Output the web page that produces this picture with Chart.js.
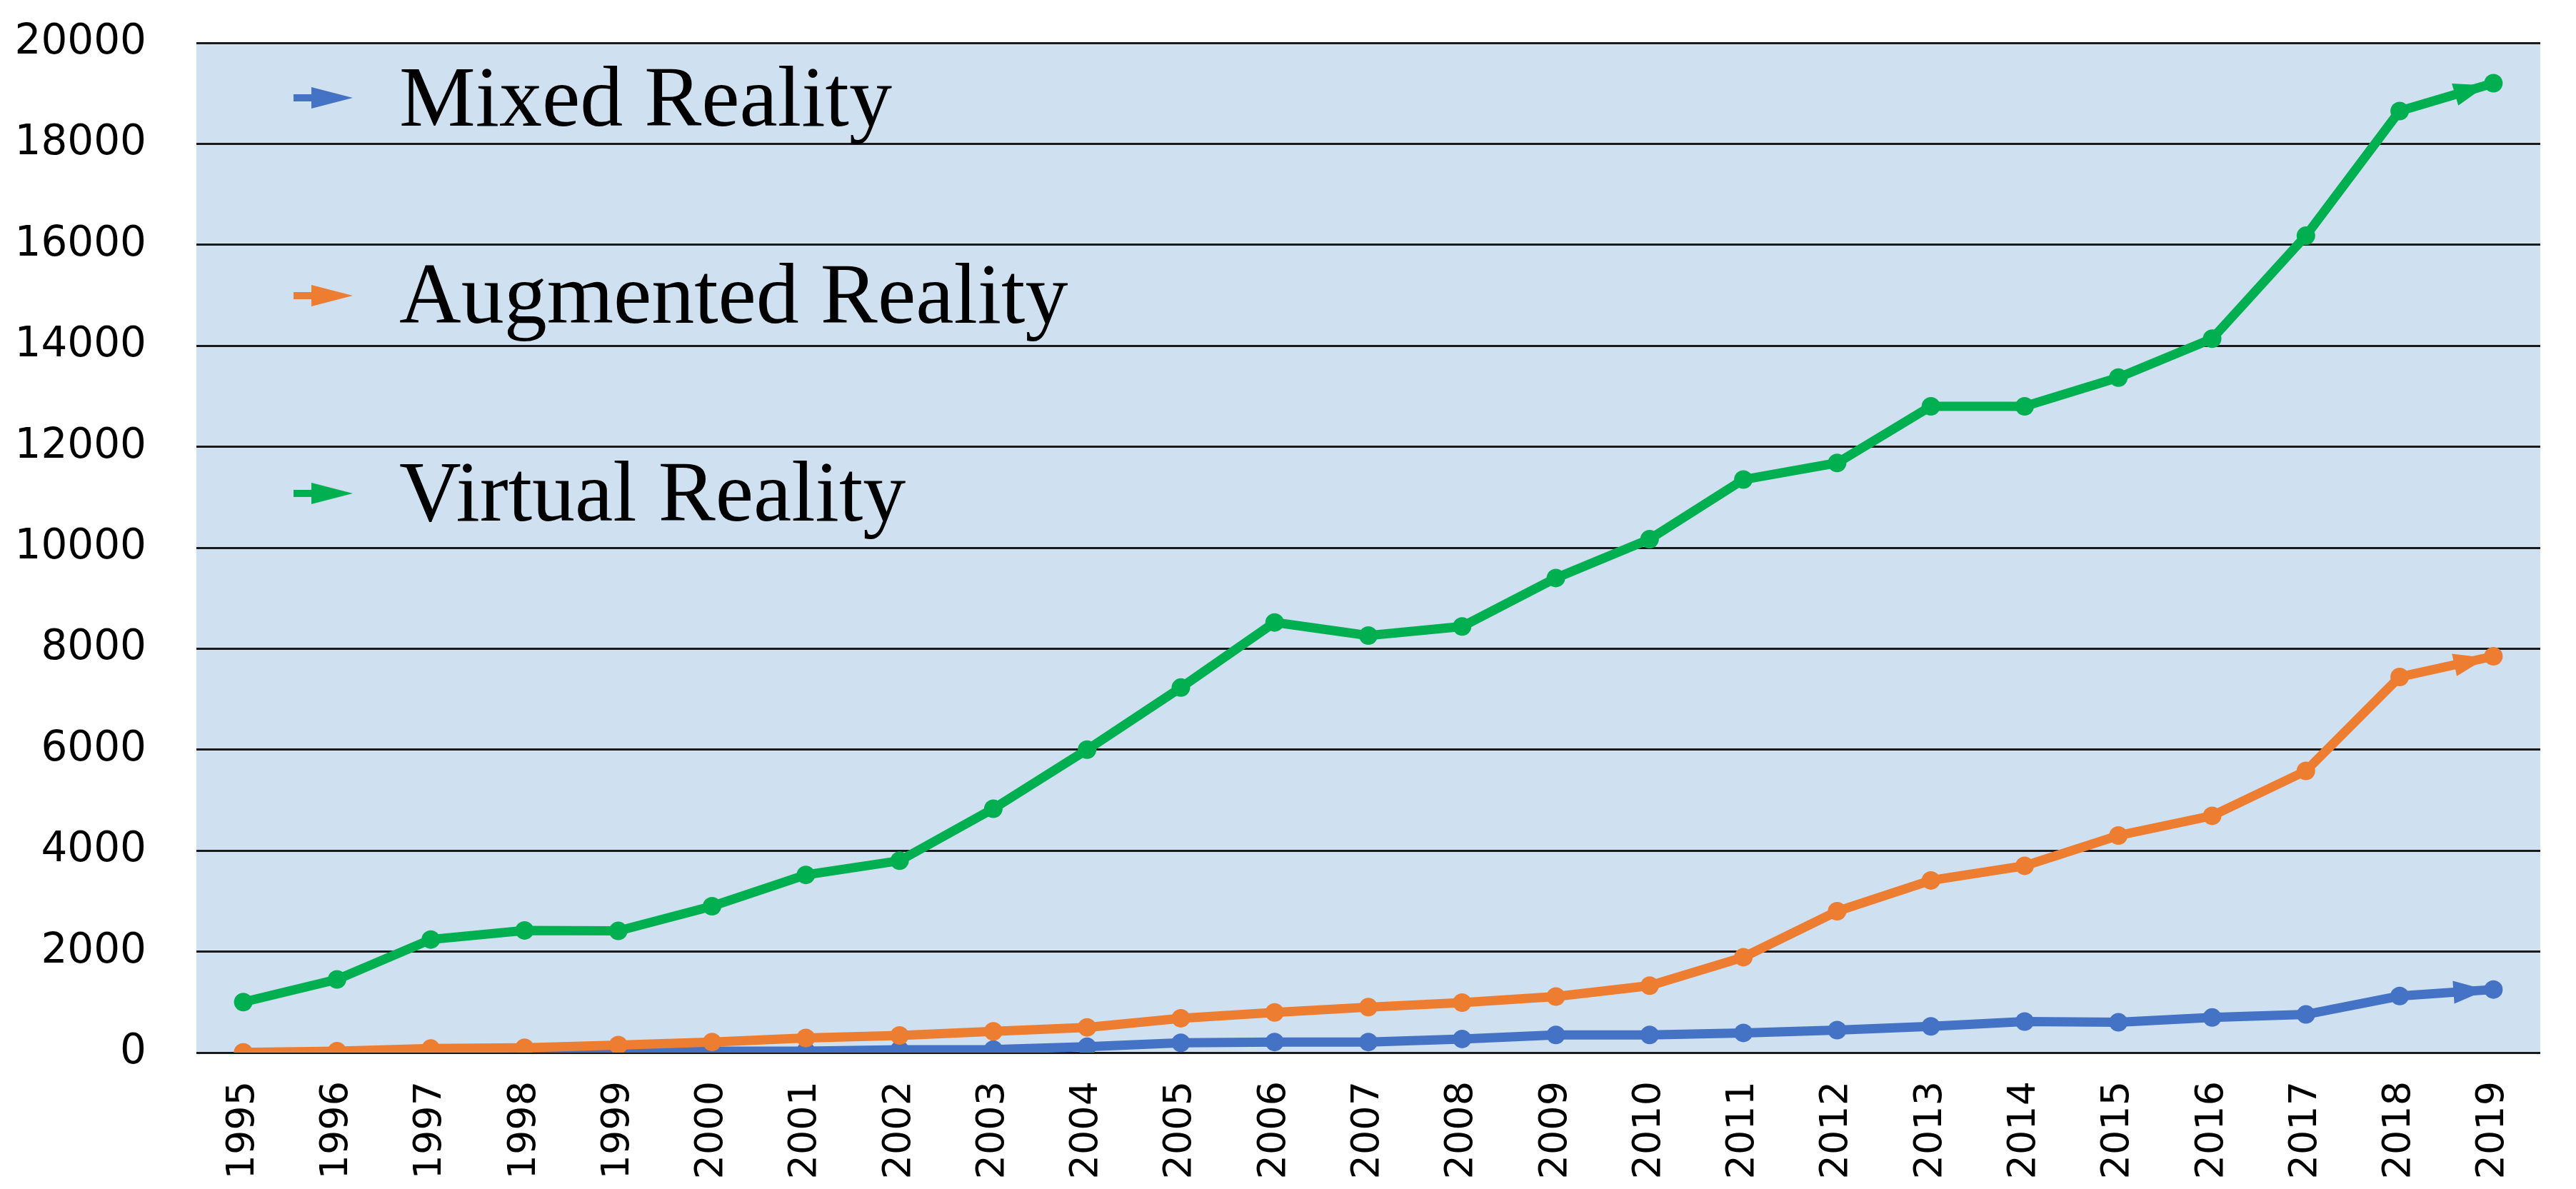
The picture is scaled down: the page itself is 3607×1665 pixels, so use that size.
<!DOCTYPE html>
<html>
<head>
<meta charset="utf-8">
<script src="https://cdn.jsdelivr.net/npm/chart.js@4"></script>
<style>
  html, body { margin: 0; padding: 0; background: #ffffff; }
  #wrap { width: 3607px; height: 1665px; position: relative; }
</style>
</head>
<body>
<div id="wrap"><canvas id="c" width="3607" height="1665"></canvas></div>
<script>
// ---------------- data ----------------
const years = ['1995','1996','1997','1998','1999','2000','2001','2002','2003','2004','2005','2006',
               '2007','2008','2009','2010','2011','2012','2013','2014','2015','2016','2017','2018','2019'];
const mixedReality     = [0, 10, 15, 15, 20, 30, 30, 55, 60, 115, 195, 210, 210, 270, 350, 350, 390, 445, 520, 615, 600, 695, 755, 1120, 1250];
const augmentedReality = [5, 30, 80, 95, 150, 210, 290, 340, 420, 500, 680, 795, 900, 990, 1110, 1325, 1890, 2800, 3410, 3700, 4300, 4690, 5580, 7440, 7850];
const virtualReality   = [1000, 1450, 2240, 2420, 2410, 2900, 3520, 3800, 4830, 6000, 7230, 8520, 8260, 8440, 9400, 10170, 11350, 11680, 12800, 12800, 13370, 14140, 16180, 18650, 19200];
const yTickValues = [0, 2000, 4000, 6000, 8000, 10000, 12000, 14000, 16000, 18000, 20000];
const seriesLabels = ['Mixed Reality', 'Augmented Reality', 'Virtual Reality'];
const seriesColors = ['#4472C4', '#ED7D31', '#00B050'];

// ---------------- helpers ----------------
function makeLegendArrow(color) {
  const cv = document.createElement('canvas');
  cv.width = 130; cv.height = 60;
  const g = cv.getContext('2d');
  g.fillStyle = color;
  g.fillRect(47, 18, 30, 10);
  g.beginPath();
  g.moveTo(72, 8);
  g.lineTo(130, 23);
  g.lineTo(72, 38);
  g.closePath();
  g.fill();
  return cv;
}
const legendArrows = seriesColors.map(makeLegendArrow);

const plotBackground = {
  id: 'plotBackground',
  beforeDraw(chart) {
    const {ctx, chartArea: a} = chart;
    ctx.save();
    ctx.fillStyle = '#CFE0F1';
    ctx.fillRect(a.left, a.top, a.right - a.left, a.bottom - a.top);
    ctx.restore();
  }
};

const endArrows = {
  id: 'endArrows',
  afterDatasetDraw(chart, args) {
    const pts = args.meta.data;
    if (pts.length < 2) return;
    const p1 = pts[pts.length - 2], p2 = pts[pts.length - 1];
    const dx = p2.x - p1.x, dy = p2.y - p1.y;
    const len = Math.hypot(dx, dy);
    const ux = dx / len, uy = dy / len;
    const tipX = p2.x - ux * 10, tipY = p2.y - uy * 10;
    const baseX = tipX - ux * 46, baseY = tipY - uy * 46;
    const hw = 16;
    const ctx = chart.ctx;
    ctx.save();
    ctx.fillStyle = chart.data.datasets[args.index].borderColor;
    ctx.beginPath();
    ctx.moveTo(tipX, tipY);
    ctx.lineTo(baseX - uy * hw, baseY + ux * hw);
    ctx.lineTo(baseX + uy * hw, baseY - ux * hw);
    ctx.closePath();
    ctx.fill();
    ctx.restore();
  }
};

function makeDataset(i, values, order) {
  return {
    label: seriesLabels[i],
    data: values,
    borderColor: seriesColors[i],
    backgroundColor: seriesColors[i],
    pointBackgroundColor: seriesColors[i],
    pointBorderColor: seriesColors[i],
    borderWidth: 13,
    pointRadius: 13,
    pointBorderWidth: 0,
    pointHoverRadius: 13,
    tension: 0,
    fill: false,
    order: order
  };
}

new Chart(document.getElementById('c'), {
  type: 'line',
  data: {
    labels: years,
    datasets: [
      makeDataset(0, mixedReality, 3),
      makeDataset(1, augmentedReality, 2),
      makeDataset(2, virtualReality, 1)
    ]
  },
  options: {
    responsive: false,
    devicePixelRatio: 1,
    animation: false,
    layout: { padding: { top: 60, right: 50, bottom: 0, left: 0 } },
    plugins: {
      tooltip: { enabled: false },
      legend: {
        position: 'chartArea',
        align: 'start',
        labels: {
          usePointStyle: true,
          pointStyleWidth: 140,
          padding: 84,
          color: '#000000',
          font: { family: '"Liberation Serif", "Times New Roman", serif', size: 120, lineHeight: 0.804 },
          generateLabels(chart) {
            return chart.data.datasets.map((ds, i) => ({
              text: [ds.label, ''],
              fillStyle: ds.borderColor,
              strokeStyle: ds.borderColor,
              lineWidth: 0,
              pointStyle: legendArrows[i],
              hidden: !chart.isDatasetVisible(i),
              datasetIndex: i,
              fontColor: '#000000'
            }));
          }
        }
      }
    },
    scales: {
      x: {
        offset: true,
        grid: { display: false, drawTicks: false },
        border: { display: false },
        ticks: {
          autoSkip: false,
          minRotation: 90,
          maxRotation: 90,
          padding: 40,
          color: '#000000',
          font: { family: '"DejaVu Sans", sans-serif', size: 54 }
        },
        afterFit(scale) { scale.height = 191; scale.paddingLeft = 0; scale.paddingRight = 0; }
      },
      y: {
        min: 0,
        max: 20000,
        afterBuildTicks(scale) { scale.ticks = yTickValues.map(v => ({ value: v })); },
        grid: { color: '#1a1a1a', lineWidth: 3, drawTicks: false },
        border: { display: false },
        ticks: {
          padding: 70,
          color: '#000000',
          font: { family: '"DejaVu Sans", sans-serif', size: 58 },
          callback: (value) => String(value)
        },
        afterFit(scale) { scale.width = 275; scale.paddingTop = 0; scale.paddingBottom = 0; }
      }
    }
  },
  plugins: [plotBackground, endArrows]
});
</script>
</body>
</html>
